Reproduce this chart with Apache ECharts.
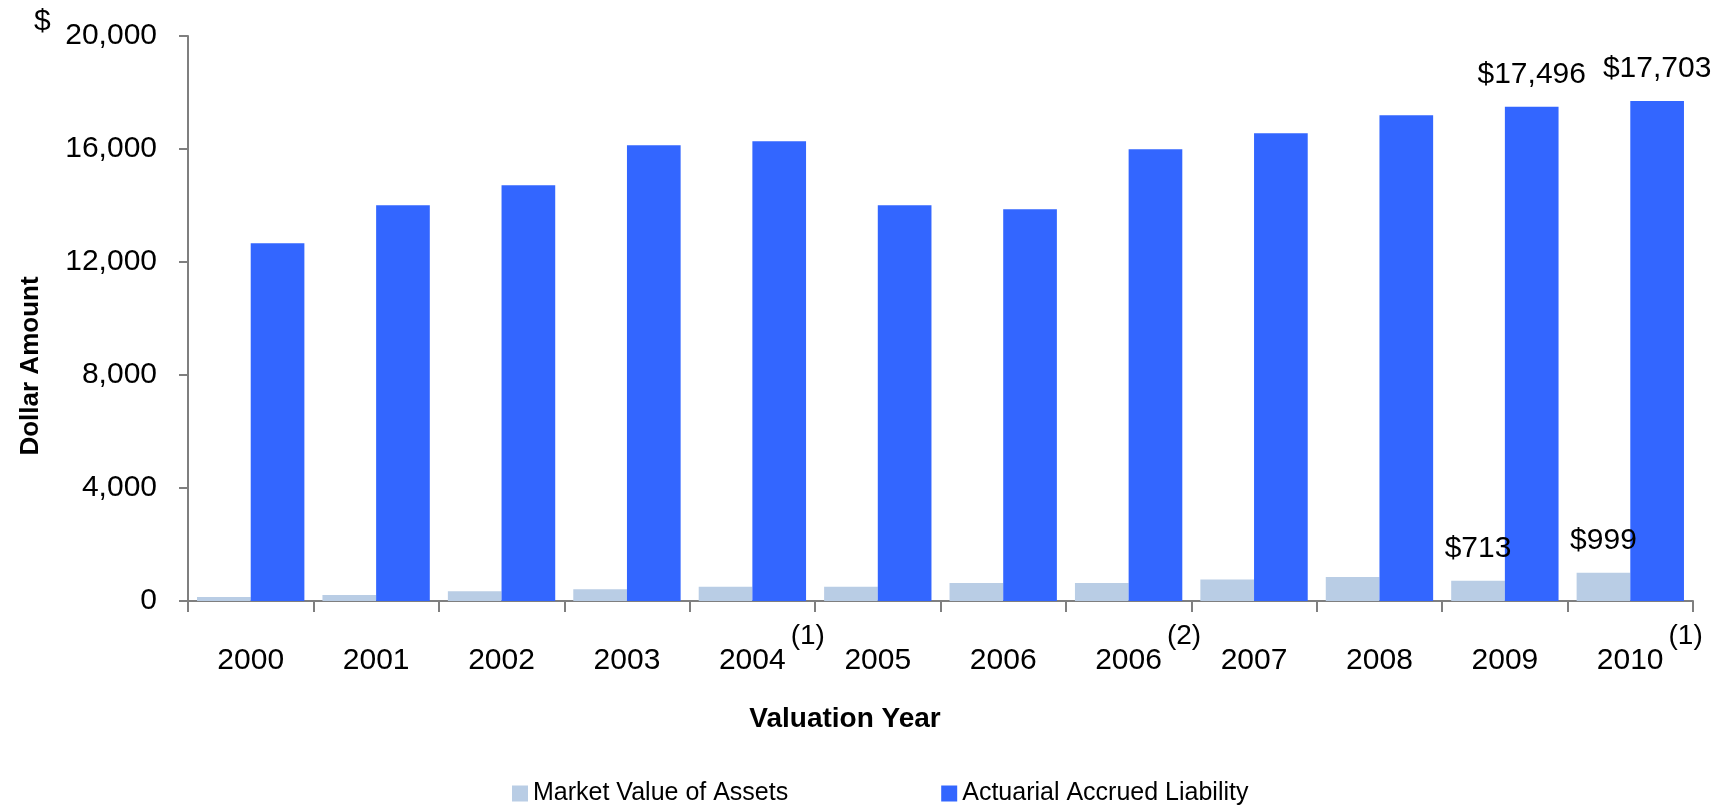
<!DOCTYPE html>
<html>
<head>
<meta charset="utf-8">
<script src="https://cdn.jsdelivr.net/npm/echarts@6/dist/echarts.min.js"></script>
<style>
    html, body { margin: 0; padding: 0; background: #fff; }
    #chart { width: 1729px; height: 807px; }
</style>
</head>
<body>
<div id="chart"></div>
<script>
// 数据
const years = ['2000', '2001', '2002', '2003', '2004 (1)', '2005', '2006', '2006 (2)', '2007', '2008', '2009', '2010 (1)'];
const assets = [140, 212, 342, 413, 506, 506, 637, 637, 765, 850, 713, 999];
const liability = [12662, 14007, 14715, 16131, 16272, 14007, 13865, 15989, 16556, 17193, 17496, 17703];
const labeledIdx = [10, 11];  // 显示数值标签的年份
const yTicks = [0, 4000, 8000, 12000, 16000, 20000];

const FONT = '"Liberation Sans", Arial, sans-serif';

function commas(v) {
    return String(v).replace(/\B(?=(\d{3})+(?!\d))/g, ',');
}

function withLabels(arr) {
    return arr.map(function (v, i) {
        if (labeledIdx.indexOf(i) >= 0) {
            return { value: v, label: { show: true } };
        }
        return v;
    });
}

(function () {
    let myChart = echarts.init(document.getElementById('chart'));
    let option = {
        animation: false,
        textStyle: { fontFamily: FONT },
        color: ['#b9cde5', '#3366ff'],
        grid: {
            left: 188,
            right: 36,
            top: 36,
            bottom: 206,
            containLabel: false
        },
        legend: {
            left: 507,
            top: 776,
            icon: 'rect',
            itemWidth: 16,
            itemHeight: 16,
            itemGap: 153,
            textStyle: {
                fontFamily: FONT,
                fontSize: 25,
                color: '#000'
            },
            data: ['Market Value of Assets', 'Actuarial Accrued Liability']
        },
        xAxis: {
            type: 'category',
            data: years,
            axisLine: { lineStyle: { color: '#7f7f7f', width: 2 } },
            axisTick: { show: true, length: 11, lineStyle: { color: '#7f7f7f', width: 2 } },
            axisLabel: {
                interval: 0,
                margin: 21,
                color: '#000',
                formatter: function (v) {
                    let m = v.match(/^(\d{4}) \((\d)\)$/);
                    if (m) {
                        return '{pad|}{yr|' + m[1] + '}{sup|(' + m[2] + ')}';
                    }
                    return '{yr|' + v + '}';
                },
                rich: {
                    yr: { fontFamily: FONT, fontSize: 30, lineHeight: 54, verticalAlign: 'bottom', color: '#000' },
                    sup: { fontFamily: FONT, fontSize: 28, lineHeight: 32, verticalAlign: 'top', padding: [0, 0, 0, 5], color: '#000' },
                    pad: { width: 39 }
                }
            }
        },
        yAxis: {
            type: 'value',
            min: yTicks[0],
            max: yTicks[yTicks.length - 1],
            interval: 4000,
            axisLine: { show: true, lineStyle: { color: '#7f7f7f', width: 2 } },
            axisTick: { show: true, length: 9, lineStyle: { color: '#7f7f7f', width: 2 } },
            splitLine: { show: false },
            axisLabel: {
                margin: 31,
                fontFamily: FONT,
                fontSize: 30,
                color: '#000',
                formatter: function (v) { return commas(v); }
            }
        },
        graphic: [
            {
                type: 'text', left: 34, top: 7,
                style: { text: '$', fontFamily: FONT, fontSize: 30, fill: '#000' }
            },
            {
                type: 'text', x: 31, y: 366, rotation: Math.PI / 2,
                style: { text: 'Dollar Amount', fontFamily: FONT, fontSize: 26, fontWeight: 'bold', fill: '#000', align: 'center', verticalAlign: 'middle' }
            },
            {
                type: 'text', x: 845, y: 719,
                style: { text: 'Valuation Year', fontFamily: FONT, fontSize: 28, fontWeight: 'bold', fill: '#000', align: 'center', verticalAlign: 'middle' }
            }
        ],
        series: [
            {
                name: 'Market Value of Assets',
                type: 'bar',
                barGap: '0%',
                barCategoryGap: '14.4%',
                data: withLabels(assets),
                label: {
                    show: false,
                    position: 'top',
                    distance: 17,
                    fontFamily: FONT,
                    fontSize: 30,
                    color: '#000',
                    formatter: function (p) { return '$' + commas(p.value); }
                }
            },
            {
                name: 'Actuarial Accrued Liability',
                type: 'bar',
                barGap: '0%',
                barCategoryGap: '14.4%',
                data: withLabels(liability),
                label: {
                    show: false,
                    position: 'top',
                    distance: 17,
                    fontFamily: FONT,
                    fontSize: 30,
                    color: '#000',
                    formatter: function (p) { return '$' + commas(p.value); }
                }
            }
        ]
    };
    myChart.setOption(option);

    window.addEventListener('resize', function () {
        myChart.resize();
    });
})();
</script>
</body>
</html>
